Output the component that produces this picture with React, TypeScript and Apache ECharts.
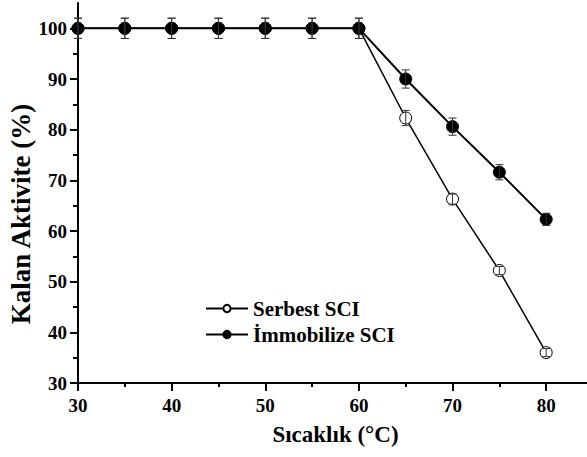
import React, { useEffect, useRef } from "react";
import * as echarts from "echarts";

const temps = [30, 35, 40, 45, 50, 55, 60, 65, 70, 75, 80];
const serbest = [100, 100, 100, 100, 100, 100, 100, 82.3, 66.3, 52.2, 36.0];
const serbestErr = [2, 2, 2, 2, 2, 2, 2, 1.5, 1.0, 0.8, 0.8];
const immob = [100, 100, 100, 100, 100, 100, 100, 90.0, 80.6, 71.6, 62.3];
const immobErr = [2, 2, 2, 2, 2, 2, 2, 1.8, 1.7, 1.5, 1.2];
const xTicks = [30, 40, 50, 60, 70, 80];
const yTicks = [30, 40, 50, 60, 70, 80, 90, 100];
const seriesNames = ["Serbest SCI", "İmmobilize SCI"];

const FONT = "Liberation Serif";

function errRender(params: any, api: any) {
  const x = api.value(0);
  const y = api.value(1);
  const e = api.value(2);
  const top = api.coord([x, y + e]);
  const bot = api.coord([x, y - e]);
  const hw = 4;
  const style = { stroke: "#333", lineWidth: 1 };
  return {
    type: "group",
    children: [
      { type: "line", shape: { x1: top[0], y1: top[1], x2: bot[0], y2: bot[1] }, style },
      { type: "line", shape: { x1: top[0] - hw, y1: top[1], x2: top[0] + hw, y2: top[1] }, style },
      { type: "line", shape: { x1: bot[0] - hw, y1: bot[1], x2: bot[0] + hw, y2: bot[1] }, style },
    ],
  };
}

export default function App() {
  const ref = useRef<HTMLDivElement>(null);
  useEffect(() => {
    if (!ref.current) return;
    const chart = echarts.init(ref.current, null, { renderer: "svg" });
    const axisText = { fontFamily: FONT, fontWeight: "bold", fontSize: 19, color: "#000" };
    chart.setOption({
      animation: false,
      backgroundColor: "#fff",
      textStyle: { fontFamily: FONT },
      grid: { left: 78, top: 3, width: 515, height: 380, outerBoundsMode: "none", containLabel: false },
      legend: {
        orient: "vertical",
        left: 200,
        top: 293,
        itemWidth: 42,
        itemHeight: 9,
        itemGap: 5,
        data: seriesNames,
        textStyle: { fontFamily: FONT, fontWeight: "bold", fontSize: 21, color: "#000" },
      },
      xAxis: {
        type: "value",
        min: 30,
        max: 85,
        interval: 10,
        name: "Sıcaklık (°C)",
        nameLocation: "middle",
        nameGap: 40,
        nameMoveOverlap: false,
        nameTextStyle: { fontFamily: FONT, fontWeight: "bold", fontSize: 23, color: "#000" },
        axisLine: { show: true, onZero: false, lineStyle: { color: "#000", width: 2 } },
        axisTick: { show: true, length: 8, customValues: xTicks, lineStyle: { color: "#000", width: 2 } },
        minorTick: { show: true, splitNumber: 2, length: 4, lineStyle: { color: "#000", width: 2 } },
        axisLabel: { ...axisText, margin: 13, customValues: xTicks },
        splitLine: { show: false },
      },
      yAxis: {
        type: "value",
        min: 30,
        max: 105,
        interval: 10,
        name: "Kalan Aktivite (%)",
        nameLocation: "middle",
        nameGap: 44,
        nameMoveOverlap: false,
        nameTextStyle: { fontFamily: FONT, fontWeight: "bold", fontSize: 27, color: "#000", padding: [0, 42, 0, 0] },
        axisLine: { show: true, onZero: false, lineStyle: { color: "#000", width: 2 } },
        axisTick: { show: true, length: 8, customValues: yTicks, lineStyle: { color: "#000", width: 2 } },
        minorTick: { show: true, splitNumber: 2, length: 5, lineStyle: { color: "#000", width: 2 } },
        axisLabel: { ...axisText, margin: 11, customValues: yTicks },
        splitLine: { show: false },
      },
      series: [
        {
          name: seriesNames[0],
          type: "line",
          data: temps.map((t, i) => [t, serbest[i]]),
          symbol: "circle",
          symbolSize: 12,
          lineStyle: { color: "#000", width: 1.5 },
          itemStyle: { color: "#fff", borderColor: "#000", borderWidth: 1 },
          z: 2,
        },
        {
          name: seriesNames[1],
          type: "line",
          data: temps.map((t, i) => [t, immob[i]]),
          symbol: "circle",
          symbolSize: 12,
          lineStyle: { color: "#000", width: 2 },
          itemStyle: { color: "#000", borderColor: "#000", borderWidth: 1 },
          z: 3,
        },
        {
          name: "errS",
          type: "custom",
          renderItem: errRender,
          data: temps.map((t, i) => [t, serbest[i], serbestErr[i]]),
          z: 4,
        },
        {
          name: "errI",
          type: "custom",
          renderItem: errRender,
          data: temps.map((t, i) => [t, immob[i], immobErr[i]]),
          z: 4,
        },
      ],
    });
    return () => chart.dispose();
  }, []);
  return (
    <div
      ref={ref}
      style={{ position: "fixed", left: 0, top: 0, width: 587, height: 457 }}
    />
  );
}
